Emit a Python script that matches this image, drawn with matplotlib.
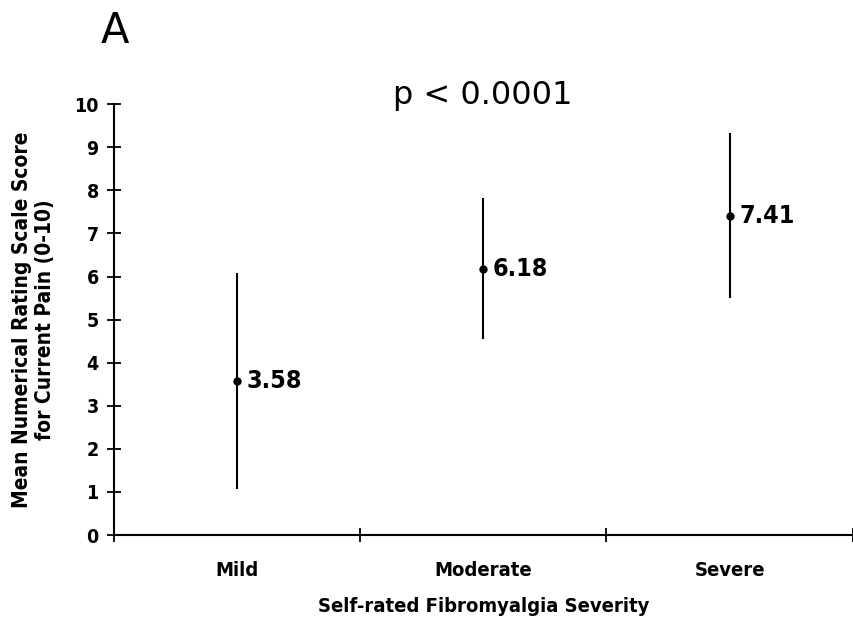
import matplotlib
matplotlib.use("Agg")
import matplotlib.pyplot as plt
from matplotlib import font_manager

# data
groups = ['Mild', 'Moderate', 'Severe']
means = [3.58, 6.18, 7.41]
sd = [2.50, 1.64, 1.92]
mean_labels = ['3.58', '6.18', '7.41']

names = {f.name for f in font_manager.fontManager.ttflist}
narrow = 'Liberation Sans Narrow' if 'Liberation Sans Narrow' in names else 'DejaVu Sans'
plt.rcParams['font.family'] = [narrow, 'DejaVu Sans']
plt.rcParams['font.stretch'] = 'condensed'

fig = plt.figure(figsize=(8.54, 6.2), dpi=100)
ax = fig.add_axes([0.1335, 0.137, 0.865, 0.695])

x = list(range(len(groups)))
ax.errorbar(x, means, yerr=sd, fmt='o', color='black', ms=5, elinewidth=1.5, capsize=0)
for xi, m, lab in zip(x, means, mean_labels):
    ax.annotate(lab, (xi, m), xytext=(7, 0), textcoords='offset points',
                va='center', ha='left', fontsize=18, fontweight='bold')

ax.set_xlim(-0.5, 2.5)
ax.set_ylim(0, 10)
ax.set_yticks(range(0, 11))
ax.set_yticklabels([str(i) for i in range(0, 11)], fontsize=14, fontweight='bold')
ax.set_xticks([-0.5, 0.5, 1.5, 2.5])
ax.set_xticklabels([])
ax.set_xticks(x, minor=True)
ax.set_xticklabels(groups, minor=True, fontsize=14.5, fontweight='bold')
ax.tick_params(axis='x', which='minor', length=0, pad=19)
ax.tick_params(axis='both', which='major', direction='inout', length=10, width=1.3)
ax.tick_params(axis='y', pad=6)

ax.spines[['top', 'right']].set_visible(False)
ax.spines[['left', 'bottom']].set_linewidth(1.5)

ax.set_ylabel('Mean Numerical Rating Scale Score\nfor Current Pain (0-10)',
              fontsize=15, fontweight='bold', labelpad=14, linespacing=1.15)
ax.set_xlabel('Self-rated Fibromyalgia Severity', fontsize=14.5, fontweight='bold', labelpad=12)

fig.text(0.135, 0.95, 'A', fontsize=30, ha='center', va='center',
         family='DejaVu Sans', fontstretch='normal')
fig.text(0.565, 0.846, 'p < 0.0001', fontsize=23, ha='center', va='center',
         family='DejaVu Sans', fontstretch='normal')

fig.savefig('out.png', dpi=100)
